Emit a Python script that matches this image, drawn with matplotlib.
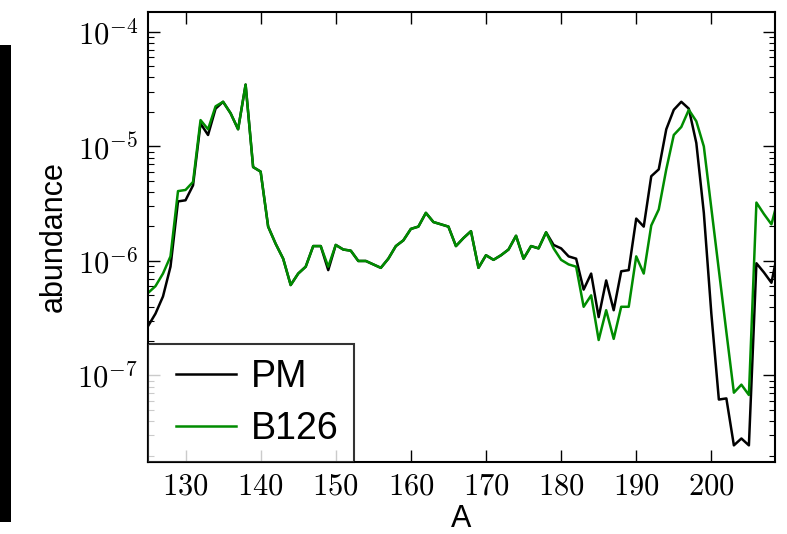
import numpy as np
import matplotlib
matplotlib.use('Agg')
import matplotlib.pyplot as plt
from matplotlib.ticker import FixedLocator, FuncFormatter, LogLocator
from matplotlib.patches import Rectangle
from matplotlib.legend_handler import HandlerLine2D
from matplotlib.lines import Line2D

plt.rcParams['mathtext.fontset'] = 'cm'
plt.rcParams['font.family'] = ['Liberation Sans', 'DejaVu Sans']

# ── Data (mass number A, log10 abundance) ──────────────────────────────
A = np.arange(125, 210)

log_pm = [
    -6.57, -6.46, -6.31, -6.05, -5.48, -5.47, -5.34, -4.80, -4.90, -4.67,   # 125-134
    -4.61, -4.71, -4.85, -4.46, -5.18, -5.22, -5.70, -5.85, -5.98, -6.21,   # 135-144
    -6.11, -6.05, -5.87, -5.87, -6.08, -5.86, -5.90, -5.91, -6.00, -6.00,   # 145-154
    -6.03, -6.06, -5.98, -5.87, -5.82, -5.72, -5.70, -5.58, -5.66, -5.68,   # 155-164
    -5.70, -5.87, -5.80, -5.74, -6.06, -5.95, -5.99, -5.95, -5.90, -5.78,   # 165-174
    -5.98, -5.87, -5.89, -5.75, -5.86, -5.89, -5.96, -5.98, -6.25, -6.11,   # 175-184
    -6.49, -6.17, -6.43, -6.09, -6.08, -5.63, -5.70, -5.26, -5.20, -4.85,   # 185-194
    -4.68, -4.61, -4.67, -4.97, -5.58, -6.46, -7.21, -7.20, -7.61, -7.55,   # 195-204
    -7.61, -6.02, -6.10, -6.19, -5.87,                                      # 205-209
]

log_b126 = [
    -6.28, -6.22, -6.11, -5.96, -5.39, -5.38, -5.31, -4.77, -4.85, -4.65,   # 125-134
    -4.61, -4.71, -4.85, -4.46, -5.18, -5.22, -5.70, -5.85, -5.98, -6.21,   # 135-144
    -6.11, -6.05, -5.87, -5.87, -6.05, -5.86, -5.90, -5.91, -6.00, -6.00,   # 145-154
    -6.03, -6.06, -5.98, -5.87, -5.82, -5.72, -5.70, -5.58, -5.66, -5.68,   # 155-164
    -5.70, -5.87, -5.80, -5.74, -6.06, -5.95, -5.99, -5.95, -5.90, -5.78,   # 165-174
    -5.98, -5.87, -5.89, -5.75, -5.89, -5.99, -6.03, -6.05, -6.40, -6.30,   # 175-184
    -6.69, -6.43, -6.68, -6.40, -6.40, -5.96, -6.11, -5.69, -5.55, -5.20,   # 185-194
    -4.90, -4.83, -4.68, -4.78, -5.00, -5.54, -6.08, -6.62, -7.15, -7.08,   # 195-204
    -7.17, -5.49, -5.59, -5.68, -5.43,                                      # 205-209
]

pm = 10.0 ** np.array(log_pm)
b126 = 10.0 ** np.array(log_b126)

x_ticks = [130, 140, 150, 160, 170, 180, 190, 200]

# ── Figure ─────────────────────────────────────────────────────────────
fig = plt.figure(figsize=(7.87, 5.34), dpi=100)
ax = fig.add_axes([0.188, 0.135, 0.797, 0.843])

ax.plot(A, pm, color='black', lw=1.8, label='PM')
ax.plot(A, b126, color='#008c00', lw=1.8, label='B126')

ax.set_yscale('log')
ax.set_xlim(125, 208.5)
ax.set_ylim(1.76e-8, 1.5e-4)

ax.xaxis.set_major_locator(FixedLocator(x_ticks))
ax.xaxis.set_major_formatter(FuncFormatter(lambda v, p: r'$%d$' % v))
ax.yaxis.set_major_locator(LogLocator(base=10, numticks=10))
ax.yaxis.set_minor_locator(LogLocator(base=10, subs=np.arange(2, 10), numticks=20))
ax.yaxis.set_major_formatter(FuncFormatter(lambda v, p: r'$10^{%d}$' % round(np.log10(v))))

ax.tick_params(which='both', direction='in', top=True, right=True, labelsize=22)
ax.tick_params(which='major', length=8.5, width=1.0, pad=7)
ax.tick_params(which='minor', length=4.3, width=0.8)
for s in ax.spines.values():
    s.set_linewidth(1.5)

ax.set_xlabel('A', fontsize=22, labelpad=2)
ax.set_ylabel('abundance', fontsize=22, labelpad=6)

# legend line is inset a bit from the frame, like the original
leg = ax.legend(loc='lower left', fontsize=27, frameon=True, fancybox=False,
                borderaxespad=0, handlelength=1.95, handletextpad=0.4,
                borderpad=0.4, labelspacing=0.42,
                handler_map={Line2D: HandlerLine2D(xpad=0.35)})
leg.get_frame().set_edgecolor('black')
leg.get_frame().set_linewidth(1.5)

# black strip at the left edge of the image
fig.patches.append(Rectangle((0, 0.0225), 0.014, 0.8935, transform=fig.transFigure,
                             facecolor='black', edgecolor='none'))

fig.savefig('out.png', dpi=100, facecolor='white')
